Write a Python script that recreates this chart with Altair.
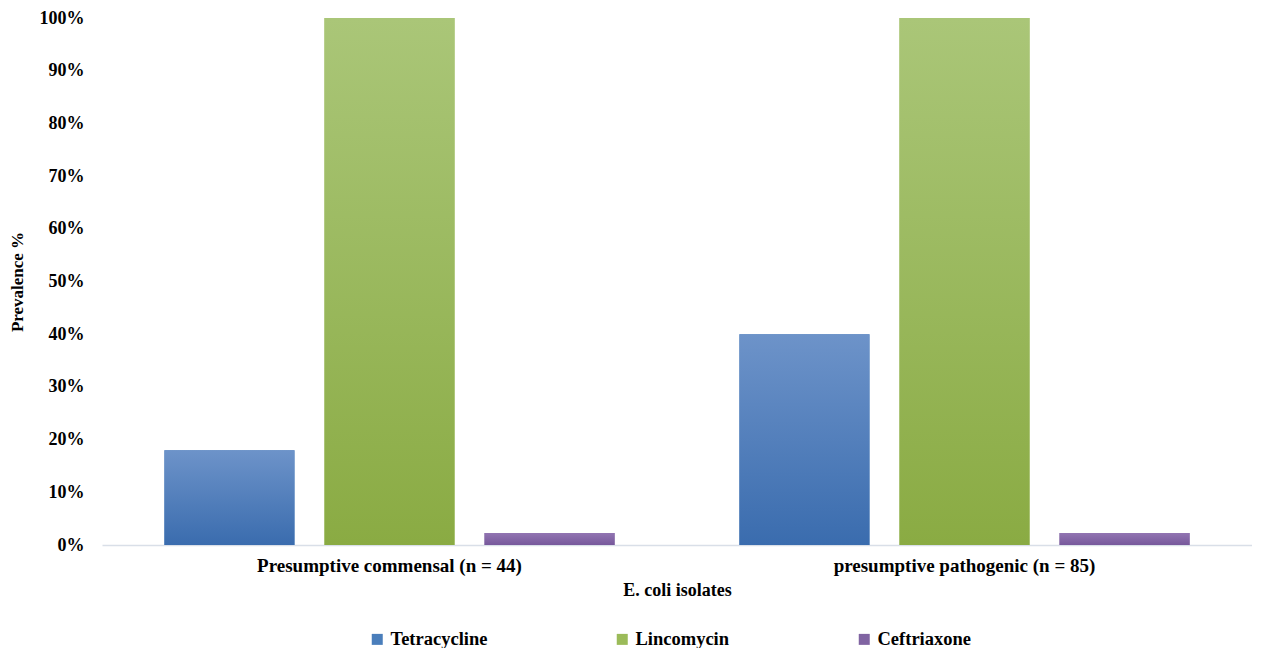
import altair as alt
import pandas as pd

groups = ["Presumptive commensal (n = 44)", "presumptive pathogenic (n = 85)"]
series = ["Tetracycline", "Lincomycin", "Ceftriaxone"]
tetracycline = [18.0, 40.0]
lincomycin = [100.0, 100.0]
ceftriaxone = [2.3, 2.3]
y_ticks = [0, 10, 20, 30, 40, 50, 60, 70, 80, 90, 100]

solid = ["#4a7ebb", "#9bbb59", "#8064a2"]
grad_top = ["#6d93c9", "#aac678", "#9275b2"]
grad_bot = ["#3a6cae", "#8aab43", "#77589b"]

rows = []
for s, vals in zip(series, [tetracycline, lincomycin, ceftriaxone]):
    for g, v in zip(groups, vals):
        rows.append({"group": g, "series": s, "value": v})
df = pd.DataFrame(rows)

FONT = "Liberation Serif"

x_enc = alt.X(
    "group:N",
    sort=groups,
    scale=alt.Scale(paddingInner=0, paddingOuter=0),
    axis=alt.Axis(
        title="E. coli isolates",
        labelAngle=0,
        labelLimit=0,
        ticks=False,
        domainColor="#d9dfe8",
        domainWidth=1.5,
        labelFont=FONT,
        labelFontSize=19,
        labelFontWeight="bold",
        labelColor="#000000",
        labelPadding=11,
        titleFont=FONT,
        titleFontSize=18,
        titleFontWeight="bold",
        titleColor="#000000",
        titlePadding=6,
    ),
)
xo_enc = alt.XOffset(
    "series:N",
    sort=series,
    scale=alt.Scale(domain=series, paddingInner=0.1875, paddingOuter=0.39),
)
y_enc = alt.Y(
    "value:Q",
    scale=alt.Scale(domain=[0, 100], nice=False),
    axis=alt.Axis(
        title="Prevalence %",
        values=y_ticks,
        labelExpr="datum.value + '%'",
        grid=False,
        domain=False,
        ticks=False,
        labelFont=FONT,
        labelFontSize=18,
        labelFontWeight="bold",
        labelColor="#000000",
        labelPadding=18,
        titleFont=FONT,
        titleFontSize=17,
        titleFontWeight="bold",
        titleColor="#000000",
        titlePadding=13,
    ),
)

base = alt.Chart(df).mark_bar().encode(
    x=x_enc,
    xOffset=xo_enc,
    y=y_enc,
    color=alt.Color(
        "series:N",
        sort=series,
        scale=alt.Scale(domain=series, range=solid),
        legend=alt.Legend(
            title=None,
            orient="none",
            legendX=266,
            legendY=612,
            direction="horizontal",
            symbolType="square",
            symbolSize=121,
            symbolStrokeWidth=0,
            labelFont=FONT,
            labelFontSize=18.5,
            labelFontWeight="bold",
            labelColor="#000000",
            labelOffset=4,
            labelLimit=0,
            columnPadding=125,
        ),
    ),
)

layers = [base]
for i, s in enumerate(series):
    grad = alt.Gradient(
        gradient="linear",
        x1=0, y1=0, x2=0, y2=1,
        stops=[
            alt.GradientStop(offset=0, color=grad_top[i]),
            alt.GradientStop(offset=1, color=grad_bot[i]),
        ],
    )
    layer = (
        alt.Chart(df)
        .transform_filter(alt.datum.series == s)
        .mark_bar(color=grad)
        .encode(x=x_enc, xOffset=xo_enc, y=y_enc)
    )
    layers.append(layer)

chart = (
    alt.layer(*layers)
    .properties(
        width=1150,
        height=527,
        padding={"left": 94, "top": 10, "right": 0, "bottom": 103},
        autosize=alt.AutoSizeParams(type="none"),
        background="#ffffff",
    )
    .configure_view(stroke=None)
)

chart.save("out.html", embed_options={"renderer": "svg", "actions": False})
